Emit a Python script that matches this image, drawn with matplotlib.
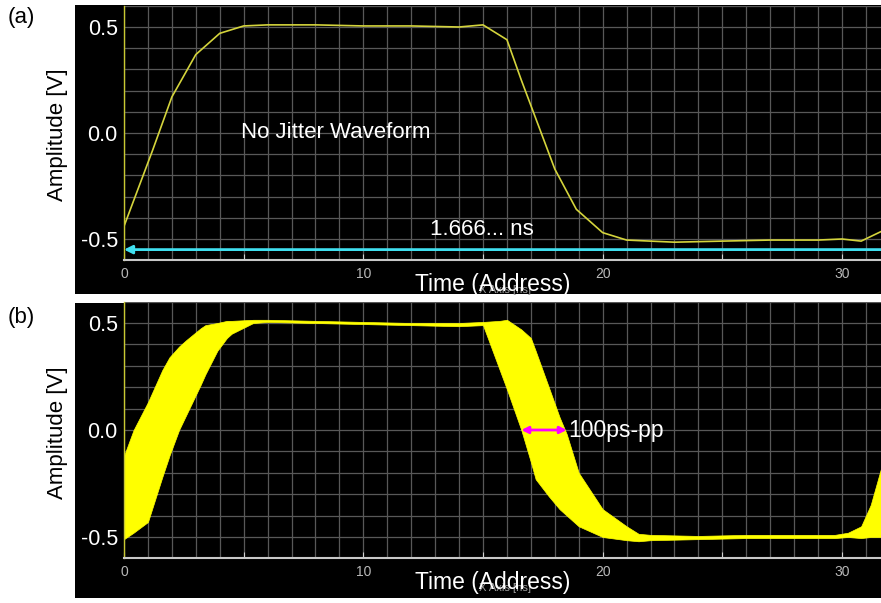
import matplotlib
matplotlib.use('Agg')
import matplotlib.pyplot as plt
import numpy as np
from matplotlib.patches import Rectangle

plt.rcParams['font.family'] = ['Liberation Sans', 'DejaVu Sans']

# --- data ---
# (a) single waveform, no jitter
t_clean = [0, 1, 1.2, 2, 3, 4, 5, 6, 8, 10, 12, 14, 15, 16, 16.6, 18, 18.9,
           20, 21, 22, 23, 25, 27, 29, 30, 30.8, 31.63]
v_clean = [-0.44, -0.14, -0.08, 0.17, 0.37, 0.47, 0.505, 0.51, 0.51, 0.505,
           0.505, 0.50, 0.51, 0.44, 0.25, -0.17, -0.36, -0.47, -0.505, -0.51,
           -0.515, -0.51, -0.505, -0.505, -0.50, -0.51, -0.465]

# (b) jittered band: upper / lower envelope of all traces
t_band = [0, 0.4, 1.0, 1.6, 1.9, 2.3, 2.6, 3.2, 3.4, 3.9, 4.3, 4.5, 5.4, 6,
          8, 10, 12, 14, 15, 15.7, 16, 16.6, 17, 17.2, 17.75, 18.2, 18.5, 19,
          20, 21, 21.5, 22, 24, 26, 28, 29.7, 30.25, 30.8, 31.2, 31.63]
v_upper = [-0.12, 0.0, 0.13, 0.28, 0.34, 0.39, 0.42, 0.475, 0.49, 0.50,
           0.51, 0.51, 0.515, 0.515, 0.51, 0.505, 0.50, 0.50, 0.505, 0.51,
           0.515, 0.47, 0.43, 0.37, 0.20, 0.06, -0.02, -0.20, -0.37, -0.45,
           -0.485, -0.49, -0.495, -0.49, -0.49, -0.49, -0.48, -0.45, -0.35,
           -0.18]
v_lower = [-0.51, -0.48, -0.43, -0.22, -0.12, 0.0, 0.07, 0.21, 0.26, 0.37,
           0.43, 0.45, 0.50, 0.505, 0.50, 0.495, 0.49, 0.485, 0.49, 0.28,
           0.19, 0.0, -0.15, -0.23, -0.31, -0.37, -0.40, -0.45, -0.50, -0.515,
           -0.52, -0.515, -0.51, -0.505, -0.505, -0.505, -0.50, -0.505, -0.50,
           -0.50]

x_ticks = [0, 5, 10, 15, 20, 25, 30]
x_ticklabels = ['0', '', '10', '', '20', '', '30']
y_ticks = [-0.5, 0.0, 0.5]
y_ticklabels = ['-0.5', '0.0', '0.5']

period_y = -0.55          # cyan period marker
jitter_span = (16.6, 18.5)  # magenta jitter marker at 0 V

X_MAX = 31.63
W, H = 881, 603


def px_box(x0, y0, x1, y1):
    # pixel box (top-left origin) -> figure coords
    return [x0 / W, 1 - y1 / H, (x1 - x0) / W, (y1 - y0) / H]


def style_axes(ax):
    ax.set_facecolor('black')
    ax.set_xlim(0, X_MAX)
    ax.set_ylim(-0.6, 0.6)
    ax.set_xticks(x_ticks)
    ax.set_xticklabels(x_ticklabels)
    ax.set_xticks(np.arange(0, 32, 1), minor=True)
    ax.set_yticks(y_ticks)
    ax.set_yticklabels(y_ticklabels)
    ax.set_yticks(np.arange(-0.6, 0.61, 0.1), minor=True)
    ax.grid(which='both', color='#585858', lw=0.9)
    ax.set_axisbelow(True)
    ax.tick_params(axis='x', which='major', direction='in', length=4,
                   color='#d0d0d0', labelsize=10, labelcolor='#b8b8b8', pad=5)
    ax.tick_params(axis='x', which='minor', length=0)
    ax.tick_params(axis='y', which='both', length=0, labelsize=15.5,
                   labelcolor='white', pad=4.5)
    for s in ('top', 'right'):
        ax.spines[s].set_visible(False)
    ax.spines['bottom'].set_color('#c8c8c8')
    ax.spines['bottom'].set_linewidth(1.5)
    ax.spines['left'].set_color('#c8c832')
    ax.spines['left'].set_linewidth(1.0)


fig = plt.figure(figsize=(8.81, 6.03), dpi=100)
fig.patch.set_facecolor('white')

# black screen backgrounds behind each panel
for box in [(75, 5, 881, 294), (75, 303, 881, 598)]:
    b = px_box(*box)
    fig.patches.append(Rectangle((b[0], b[1]), b[2], b[3], facecolor='black',
                                 edgecolor='none', transform=fig.transFigure,
                                 zorder=-1))

ax1 = fig.add_axes(px_box(124, 5.8, 881, 260.2))
ax2 = fig.add_axes(px_box(124, 301.6, 881, 558.4))
style_axes(ax1)
style_axes(ax2)

# (a)
ax1.plot(t_clean, v_clean, color='#d4d43c', lw=1.2)
ax1.annotate('', xy=(0, period_y), xytext=(X_MAX, period_y),
             arrowprops=dict(arrowstyle='-|>', color='#40e0f0', lw=2,
                             mutation_scale=12, shrinkA=0, shrinkB=0))
ax1.text(12.8, -0.455, '1.666... ns', color='white', fontsize=16,
         ha='left', va='center')
ax1.text(4.9, 0.0, 'No Jitter Waveform', color='white', fontsize=16,
         ha='left', va='center')

# (b)
ax2.fill_between(t_band, v_lower, v_upper, color='#ffff00', lw=0.5,
                 edgecolor='#ffff00')
ax2.annotate('', xy=(jitter_span[0], 0.0), xytext=(jitter_span[1], 0.0),
             arrowprops=dict(arrowstyle='<|-|>', color='#ff00ff', lw=2,
                             mutation_scale=10, shrinkA=0, shrinkB=0))
ax2.text(18.55, 0.0, '100ps-pp', color='white', fontsize=16.5,
         ha='left', va='center')

# labels outside the axes (the small "X Axis [ns]" sits under the big title,
# as on the instrument screen)
for y_lab, y_time, tag, y_tag in [(135, 284, '(a)', 18), (433, 582, '(b)', 318)]:
    fig.text(57 / W, 1 - y_lab / H, 'Amplitude [V]', rotation=90,
             fontsize=16, color='black', ha='center', va='center')
    fig.text(505 / W, 1 - (y_time + 6) / H, 'X Axis [ns]', fontsize=8,
             color='#a0a0a0', ha='center', va='center')
    fig.text(493 / W, 1 - y_time / H, 'Time (Address)', fontsize=16.5,
             color='white', ha='center', va='center')
    fig.text(21 / W, 1 - y_tag / H, tag, fontsize=16, color='black',
             ha='center', va='center')

fig.savefig('out.png', dpi=100, facecolor='white')
